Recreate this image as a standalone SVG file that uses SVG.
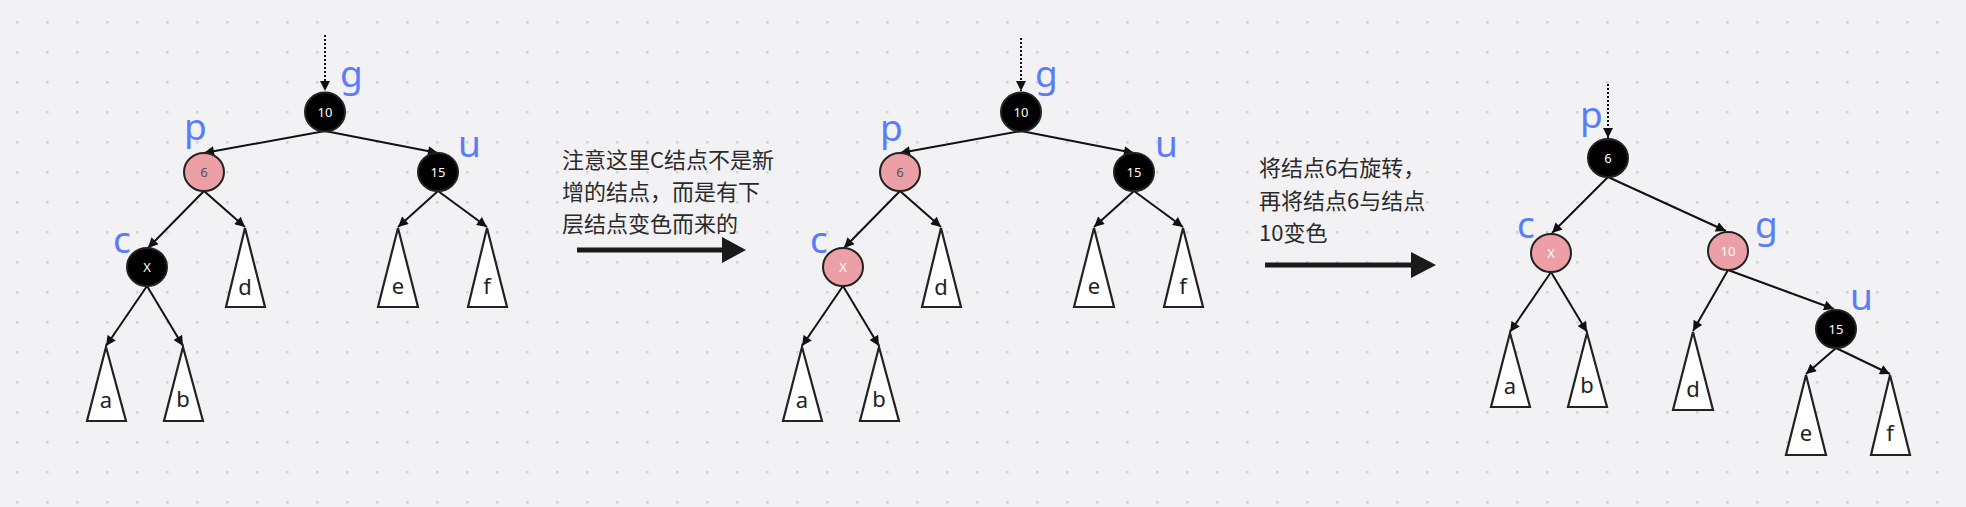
<svg xmlns="http://www.w3.org/2000/svg" width="1966" height="507" viewBox="0 0 1966 507">
<defs>
<pattern id="dots" x="0" y="0" width="30" height="30" patternUnits="userSpaceOnUse">
<rect x="16" y="21" width="2.6" height="2.6" fill="#d3d3d7"/>
</pattern>
<marker id="ah" viewBox="0 0 10 10" refX="10" refY="5" markerWidth="11" markerHeight="10" markerUnits="userSpaceOnUse" orient="auto">
<path d="M0,0 L10,5 L0,10 z" fill="#111"/>
</marker>
<style>
.edge{stroke:#111;stroke-width:2;fill:none;marker-end:url(#ah)}
.dash{stroke:#111;stroke-width:2;fill:none;stroke-dasharray:2 2;marker-end:url(#ah)}
.blk{fill:#000;stroke:#222;stroke-width:2}
.pnk{fill:#ec9fa6;stroke:#222;stroke-width:2}
.tri{fill:#fff;stroke:#222;stroke-width:2.2;stroke-linejoin:miter}
.nt{font-family:"Noto Sans","Liberation Sans",sans-serif;font-size:13px;text-anchor:middle;fill:#fff}
.nd{font-family:"Noto Sans","Liberation Sans",sans-serif;font-size:13px;text-anchor:middle;fill:#555}
.tl{font-family:"Noto Sans","Liberation Sans",sans-serif;font-size:22px;text-anchor:middle;fill:#222}
.lb{font-family:"Noto Sans","Liberation Sans",sans-serif;font-size:37px;fill:#5a7cf6}
.cn{font-family:"Noto Sans CJK SC","Noto Sans",sans-serif;font-size:22px;fill:#2b2b2b}
.big{stroke:#1a1a1a;stroke-width:5;fill:none}
</style>
</defs>
<rect width="1966" height="507" fill="#f2f2f4"/>
<rect width="1966" height="507" fill="url(#dots)"/>

<g id="connectors">
<!-- tree 1 -->
<line class="dash" x1="325" y1="35" x2="325" y2="91"/>
<line class="edge" x1="325" y1="131" x2="204" y2="153"/>
<line class="edge" x1="325" y1="131" x2="438" y2="153"/>
<line class="edge" x1="204" y1="191" x2="148" y2="248"/>
<line class="edge" x1="204" y1="191" x2="245" y2="227"/>
<line class="edge" x1="438" y1="191" x2="398" y2="227"/>
<line class="edge" x1="438" y1="191" x2="487" y2="227"/>
<line class="edge" x1="147" y1="286" x2="106" y2="346"/>
<line class="edge" x1="147" y1="286" x2="183" y2="346"/>
<!-- tree 2 -->
<line class="dash" x1="1021" y1="38" x2="1021" y2="91"/>
<line class="edge" x1="1021" y1="131" x2="900" y2="153"/>
<line class="edge" x1="1021" y1="131" x2="1134" y2="153"/>
<line class="edge" x1="900" y1="191" x2="844" y2="248"/>
<line class="edge" x1="900" y1="191" x2="941" y2="227"/>
<line class="edge" x1="1134" y1="191" x2="1094" y2="227"/>
<line class="edge" x1="1134" y1="191" x2="1183" y2="227"/>
<line class="edge" x1="843" y1="286" x2="802" y2="346"/>
<line class="edge" x1="843" y1="286" x2="879" y2="346"/>
<!-- tree 3 -->
<line class="dash" x1="1608" y1="84" x2="1608" y2="138"/>
<line class="edge" x1="1608" y1="177" x2="1552" y2="233"/>
<line class="edge" x1="1608" y1="177" x2="1726" y2="231"/>
<line class="edge" x1="1551" y1="272" x2="1510" y2="332"/>
<line class="edge" x1="1551" y1="272" x2="1587" y2="332"/>
<line class="edge" x1="1728" y1="270" x2="1693" y2="331"/>
<line class="edge" x1="1728" y1="270" x2="1834" y2="309"/>
<line class="edge" x1="1836" y1="348" x2="1806" y2="374"/>
<line class="edge" x1="1836" y1="348" x2="1890" y2="374"/>
<!-- big arrows -->
<line class="big" x1="577" y1="250" x2="724" y2="250"/>
<polygon points="722,237 746,250 722,263" fill="#1a1a1a"/>
<line class="big" x1="1265" y1="265" x2="1413" y2="265"/>
<polygon points="1411,252 1436,265 1411,278" fill="#1a1a1a"/>
</g>

<!-- tree 1 nodes -->
<g id="t1-g"><ellipse class="blk" cx="325" cy="112" rx="20" ry="19.5"/><text class="nt" x="325" y="116.5">10</text></g>
<g id="t1-p"><ellipse class="pnk" cx="204" cy="172" rx="20" ry="19"/><text class="nd" x="204" y="176.5">6</text></g>
<g id="t1-u"><ellipse class="blk" cx="438" cy="172" rx="20" ry="19"/><text class="nt" x="438" y="176.5">15</text></g>
<g id="t1-c"><ellipse class="blk" cx="147" cy="267" rx="20" ry="19"/><text class="nt" x="147" y="271.5">X</text></g>
<g id="t1-a"><polygon class="tri" points="106,347 87,421 126,421"/><text class="tl" x="106" y="408">a</text></g>
<g id="t1-b"><polygon class="tri" points="183,347 164,421 203,421"/><text class="tl" x="183" y="407">b</text></g>
<g id="t1-d"><polygon class="tri" points="245,228 226,307 265,307"/><text class="tl" x="245" y="295">d</text></g>
<g id="t1-e"><polygon class="tri" points="398,228 378,307 418,307"/><text class="tl" x="398" y="294">e</text></g>
<g id="t1-f"><polygon class="tri" points="487,228 468,307 507,307"/><text class="tl" x="487" y="294">f</text></g>
<g id="t1-labels">
<text class="lb" x="340" y="87">g</text>
<text class="lb" x="184" y="140">p</text>
<text class="lb" x="458" y="157">u</text>
<text class="lb" x="113" y="253">c</text>
</g>

<!-- text 1 -->
<g id="note1">
<text class="cn" x="562" y="168">注意这里C结点不是新</text>
<text class="cn" x="562" y="200">增的结点，而是有下</text>
<text class="cn" x="562" y="232">层结点变色而来的</text>
</g>

<!-- tree 2 nodes -->
<g id="t2-g"><ellipse class="blk" cx="1021" cy="112" rx="20" ry="19.5"/><text class="nt" x="1021" y="116.5">10</text></g>
<g id="t2-p"><ellipse class="pnk" cx="900" cy="172" rx="20" ry="19"/><text class="nd" x="900" y="176.5">6</text></g>
<g id="t2-u"><ellipse class="blk" cx="1134" cy="172" rx="20" ry="19"/><text class="nt" x="1134" y="176.5">15</text></g>
<g id="t2-c"><ellipse class="pnk" cx="843" cy="267" rx="20" ry="19"/><text class="nt" x="843" y="271.5">X</text></g>
<g id="t2-a"><polygon class="tri" points="802,347 783,421 822,421"/><text class="tl" x="802" y="408">a</text></g>
<g id="t2-b"><polygon class="tri" points="879,347 860,421 899,421"/><text class="tl" x="879" y="407">b</text></g>
<g id="t2-d"><polygon class="tri" points="941,228 922,307 961,307"/><text class="tl" x="941" y="295">d</text></g>
<g id="t2-e"><polygon class="tri" points="1094,228 1074,307 1114,307"/><text class="tl" x="1094" y="294">e</text></g>
<g id="t2-f"><polygon class="tri" points="1183,228 1164,307 1203,307"/><text class="tl" x="1183" y="294">f</text></g>
<g id="t2-labels">
<text class="lb" x="1035" y="87">g</text>
<text class="lb" x="880" y="141">p</text>
<text class="lb" x="1155" y="157">u</text>
<text class="lb" x="810" y="253">c</text>
</g>

<!-- text 2 -->
<g id="note2">
<text class="cn" x="1259" y="176">将结点6右旋转，</text>
<text class="cn" x="1259" y="209">再将结点6与结点</text>
<text class="cn" x="1259" y="241">10变色</text>
</g>

<!-- tree 3 nodes -->
<g id="t3-p"><ellipse class="blk" cx="1608" cy="158" rx="20" ry="19"/><text class="nt" x="1608" y="162.5">6</text></g>
<g id="t3-c"><ellipse class="pnk" cx="1551" cy="253" rx="20" ry="19"/><text class="nt" x="1551" y="257.5">X</text></g>
<g id="t3-g"><ellipse class="pnk" cx="1728" cy="251" rx="20" ry="19"/><text class="nt" x="1728" y="255.5">10</text></g>
<g id="t3-u"><ellipse class="blk" cx="1836" cy="329" rx="20" ry="19"/><text class="nt" x="1836" y="333.5">15</text></g>
<g id="t3-a"><polygon class="tri" points="1510,333 1491,407 1530,407"/><text class="tl" x="1510" y="394">a</text></g>
<g id="t3-b"><polygon class="tri" points="1587,333 1568,407 1607,407"/><text class="tl" x="1587" y="393">b</text></g>
<g id="t3-d"><polygon class="tri" points="1693,332 1673,410 1713,410"/><text class="tl" x="1693" y="397">d</text></g>
<g id="t3-e"><polygon class="tri" points="1806,375 1786,455 1826,455"/><text class="tl" x="1806" y="441">e</text></g>
<g id="t3-f"><polygon class="tri" points="1890,375 1871,455 1910,455"/><text class="tl" x="1890" y="441">f</text></g>
<g id="t3-labels">
<text class="lb" x="1580" y="128">p</text>
<text class="lb" x="1517" y="238">c</text>
<text class="lb" x="1755" y="238">g</text>
<text class="lb" x="1850" y="310">u</text>
</g>
</svg>
